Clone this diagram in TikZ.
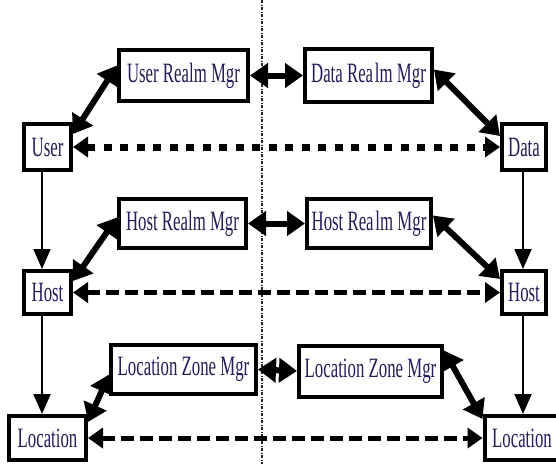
\documentclass[tikz,border=0pt]{standalone}
\usepackage{fontspec}
\setmainfont{Liberation Serif}
\usepackage{graphicx}
\usetikzlibrary{arrows.meta}
\definecolor{txt}{RGB}{35,30,90}
\newcommand{\lbl}[1]{\scalebox{0.6}[1]{#1}}
\begin{document}
\begin{tikzpicture}[x=1pt,y=-1pt,
  box/.style={draw=black,line width=4pt,fill=white,inner sep=0pt,
    font=\fontsize{28}{30}\selectfont,text=txt},
  thicktwo/.style={line width=6pt,
    {Triangle[length=18pt,width=24pt]}-{Triangle[length=18pt,width=24pt]}},
  dashrowA/.style={line width=7pt,dash pattern=on 8pt off 8.5pt,
    {Triangle[length=15pt,width=20pt]}-{Triangle[length=15pt,width=20pt]}},
  dashrowB/.style={line width=5pt,dash pattern=on 13pt off 6pt,
    {Triangle[length=15pt,width=20pt]}-{Triangle[length=15pt,width=20pt]}},
  downarrow/.style={line width=2pt,-{Triangle[length=20pt,width=17pt]}},
  sepline/.style={line width=1.3pt,dash pattern=on 3pt off 1.5pt on 1pt off 1.5pt,black!85}]
\useasboundingbox (0,0) rectangle (556,464);
\coordinate (st) at (262,0);
\coordinate (sb) at (262,464);
\draw[sepline] (st) -- (sb);
\coordinate (lx) at (42,0);
\coordinate (rx) at (523,0);
% nodes
\node[box,minimum width=47pt,minimum height=46pt] (user) at (47.5,147) {\lbl{User}};
\node[box,minimum width=44pt,minimum height=46pt] (data) at (524,147) {\lbl{Data}};
\node[box,minimum width=129pt,minimum height=51pt] (urm) at (183.5,75.5) {\lbl{User Realm Mgr}};
\node[box,minimum width=127pt,minimum height=53pt] (drm) at (368.5,75.5) {\lbl{Data Rea\kern3pt lm Mgr}};
\node[box,minimum width=127pt,minimum height=49pt] (hrm1) at (182.5,223.5) {\lbl{Host Realm Mgr}};
\node[box,minimum width=124pt,minimum height=49pt] (hrm2) at (369,223.5) {\lbl{Host Rea\kern3pt lm Mgr}};
\node[box,minimum width=47pt,minimum height=43pt] (host1) at (47.5,292.5) {\lbl{Host}};
\node[box,minimum width=44pt,minimum height=43pt] (host2) at (524,292.5) {\lbl{Host}};
\node[box,minimum width=145pt,minimum height=49pt] (lzm1) at (183.5,369.5) {\lbl{Location Zone Mgr}};
\node[box,minimum width=143pt,minimum height=51pt] (lzm2) at (370.5,371) {\lbl{Location Zone Mgr}};
\node[box,minimum width=77pt,minimum height=44pt] (loc1) at (47.5,438) {\lbl{Location}};
\node[box,minimum width=75pt,minimum height=44pt] (loc2) at (522,438) {\lbl{Location}};
% vertical arrows
\draw[downarrow] (user.south -| lx) -- (host1.north -| lx);
\draw[downarrow] (host1.south -| lx) -- (loc1.north -| lx);
\draw[downarrow] (data.south -| rx) -- (host2.north -| rx);
\draw[downarrow] (host2.south -| rx) -- (loc2.north -| rx);
% dashed rows
\draw[dashrowA] (user.east) -- (data.west);
\draw[dashrowB] (host1.east) -- (host2.west);
\draw[dashrowB] (loc1.east) -- (loc2.west);
% middle arrows
\draw[thicktwo] (urm.east) -- (drm.west);
\draw[thicktwo] (hrm1.east) -- (hrm2.west);
\draw[thicktwo] (lzm1.east) -- (lzm2.west);
% diagonal arrows
\draw[thicktwo] ([yshift=-12pt]user.north east) -- ([yshift=10pt]urm.west);
\draw[thicktwo] ([yshift=6pt]drm.east) -- ([yshift=-14pt]data.north west);
\draw[thicktwo] ([yshift=-12pt]host1.north east) -- ([yshift=6pt]hrm1.west);
\draw[thicktwo] ([yshift=8pt]hrm2.east) -- ([yshift=-10pt]host2.north west);
\draw[thicktwo] ([yshift=-8pt]loc1.north east) -- ([yshift=-5pt]lzm1.west);
\draw[thicktwo] ([yshift=-7pt]lzm2.north east) -- ([yshift=-5pt]loc2.north west);
\end{tikzpicture}
\end{document}
